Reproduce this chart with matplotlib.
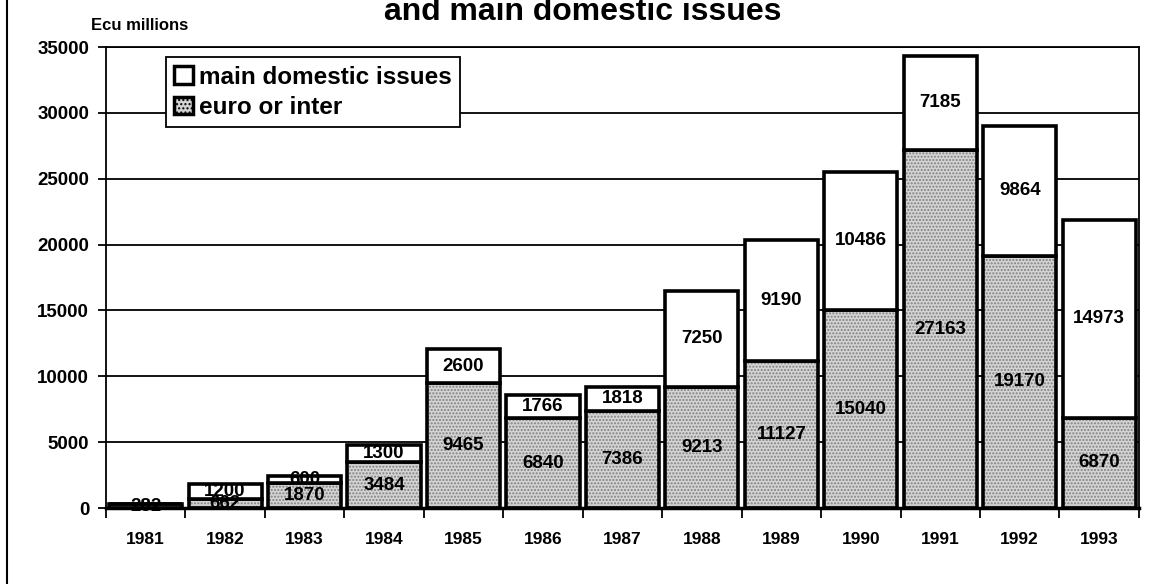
import matplotlib.pyplot as plt
from matplotlib.patches import Patch
import numpy as np

years = ['1981', '1982', '1983', '1984', '1985', '1986', '1987',
         '1988', '1989', '1990', '1991', '1992', '1993']
euro_inter = [282, 662, 1870, 3484, 9465, 6840, 7386,
              9213, 11127, 15040, 27163, 19170, 6870]
domestic = [0, 1200, 600, 1300, 2600, 1766, 1818,
            7250, 9190, 10486, 7185, 9864, 14973]

plt.rcParams['font.family'] = ['Liberation Sans', 'DejaVu Sans']
plt.rcParams['font.weight'] = 'bold'

fig = plt.figure(figsize=(11.61, 5.84), dpi=100)
ax = fig.add_axes([0.0912, 0.130, 0.8898, 0.7895])

x = np.arange(len(years))
w = 0.92
stip = '#d4d4d4'

# gridlines behind bars
ax.set_axisbelow(True)
ax.yaxis.grid(True, color='black', linewidth=1.3)

# euro or inter: stippled fill then thick outline
ax.bar(x, euro_inter, w, color=stip, hatch='.....', edgecolor='#808080', linewidth=0, zorder=2)
ax.bar(x, euro_inter, w, fill=False, edgecolor='black', linewidth=2.6, zorder=3)
# main domestic issues on top
ax.bar(x, domestic, w, bottom=euro_inter, color='white', edgecolor='black', linewidth=2.6, zorder=3)

for i in range(len(years)):
    e, d = euro_inter[i], domestic[i]
    ax.text(x[i], e / 2, str(e), ha='center', va='center', fontsize=13.5, zorder=4)
    if d > 0:
        ax.text(x[i], e + d / 2, str(d), ha='center', va='center', fontsize=13.5, zorder=4)

ax.set_xlim(-0.5, len(years) - 0.5)
ax.set_ylim(0, 35000)
ax.set_yticks(range(0, 35001, 5000))
ax.tick_params(axis='y', labelsize=13.5, length=6, width=1.3, pad=6)
ax.set_xticks(x)
ax.set_xticklabels(years)
ax.set_xticks(np.arange(-0.5, len(years)), minor=True)
ax.tick_params(axis='x', which='major', length=0, labelsize=12.5, pad=17)
ax.tick_params(axis='x', which='minor', length=7, width=1.3, direction='out')

for s in ['left', 'right', 'top']:
    ax.spines[s].set_linewidth(1.3)
ax.spines['bottom'].set_linewidth(2.5)

handles = [Patch(facecolor='white', edgecolor='black', linewidth=2.5, label='main domestic issues'),
           Patch(facecolor=stip, edgecolor='black', linewidth=2.5, hatch='....', label='euro or inter')]
leg = ax.legend(handles=handles, loc='upper left', bbox_to_anchor=(0.058, 0.978),
                fontsize=17.5, frameon=True, fancybox=False, framealpha=1,
                edgecolor='black', handlelength=0.75, handleheight=0.75,
                handletextpad=0.25, borderpad=0.35, labelspacing=0.3, borderaxespad=0)
leg.get_frame().set_linewidth(1.3)
leg.set_zorder(5)

fig.text(0.078, 0.957, 'Ecu millions', fontsize=12, ha='left', va='center')
fig.text(0.502, 0.966, 'and main domestic issues', fontsize=23, ha='center', va='baseline')

# scanned page frame on the left
fig.add_artist(plt.Line2D([0.006, 0.006], [0, 1], color='black', linewidth=1.5))

fig.savefig('out.png', dpi=100)
